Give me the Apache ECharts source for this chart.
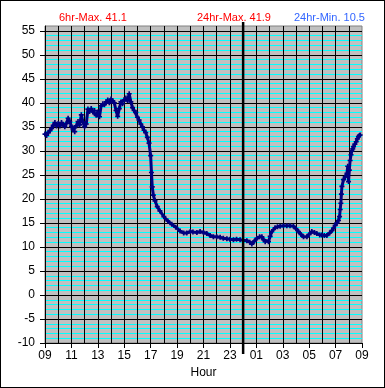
<!DOCTYPE html>
<html><head><meta charset="utf-8">
<script src="https://cdn.jsdelivr.net/npm/echarts@6/dist/echarts.min.js"></script>
<style>html,body{margin:0;padding:0;background:#fff}#c{width:383px;height:386px;border:1px solid #000}</style>
</head><body><div id="c"></div>
<script>
// hours elapsed since 09:00
const hours = [0,0.125,0.25,0.375,0.5,0.625,0.75,0.875,1,1.125,1.25,1.375,1.5,1.625,1.75,1.875,2,2.125,2.25,2.375,2.5,2.625,2.75,2.875,3,3.125,3.25,3.375,3.5,3.625,3.75,3.875,4,4.125,4.25,4.375,4.5,4.625,4.75,4.875,5,5.125,5.25,5.375,5.5,5.625,5.75,5.875,6,6.125,6.25,6.375,6.5,6.625,6.75,6.875,7,7.125,7.25,7.375,7.5,7.625,7.75,7.875,8,8.06,8.12,8.2,8.33,8.5,8.7,9,9.3,9.6,9.9,10.23,10.5,10.73,11,11.2,11.5,11.74,12,12.25,12.5,12.75,13,13.26,13.5,13.77,14,14.27,14.5,14.77,15,15.28,15.5,15.66,15.85,16.04,16.25,16.42,16.55,16.67,16.92,17.05,17.17,17.42,17.6,17.8,18.05,18.31,18.55,18.81,19,19.19,19.38,19.57,19.83,20,20.2,20.4,20.58,20.8,20.96,21.15,21.34,21.55,21.72,21.85,21.97,22.1,22.22,22.3,22.35,22.4,22.44,22.48,22.6,22.73,22.86,22.92,22.98,23.04,23.1,23.17,23.23,23.3,23.36,23.46,23.56,23.65,23.73,23.8,23.86];
const temps = [33.5,33.2,33.8,34.2,34.7,35.3,35.9,35.2,35.7,35.2,35.9,35.4,35.0,35.7,36.8,36.1,35.1,34.4,34.0,35.2,36.1,35.4,37.5,36.0,35.0,35.6,38.7,38.2,38.8,38.1,38.4,37.4,38.1,37.1,39.4,39.8,39.6,40.2,40.6,40.0,40.8,40.4,40.0,38.4,37.2,38.8,40.2,39.8,40.6,41.0,40.5,41.9,40.2,39.0,38.4,38.0,37.0,36.4,35.6,35.0,34.3,33.8,32.8,31.6,29.0,25.5,22.5,20.8,19.6,18.4,17.5,16.3,15.4,14.7,14.1,13.3,12.9,12.9,13.2,13.1,13.0,13.2,13.0,12.8,12.4,12.1,12.1,12.0,11.8,11.7,11.6,11.5,11.6,11.5,11.4,11.3,11.0,10.6,11.2,11.8,12.1,12.1,11.5,11.1,11.1,12.2,13.2,14.0,14.2,14.3,14.4,14.4,14.4,14.3,13.8,13.2,12.6,12.1,12.1,12.6,13.2,13.0,12.8,12.5,12.5,12.4,12.4,12.9,13.4,13.9,14.5,15.0,15.5,16.3,17.8,19.1,21.0,22.6,24.0,24.6,25.3,26.8,23.6,26.0,28.0,29.2,30.0,30.4,30.9,31.4,31.9,32.5,33.0,33.2,33.3];
const xTickLabels = ['09','11','13','15','17','19','21','23','01','03','05','07','09'];
const yTickValues = [-10,-5,0,5,10,15,20,25,30,35,40,45,50,55];
const headerTexts = ['6hr-Max. 41.1','24hr-Max. 41.9','24hr-Min. 10.5'];
const midnightHour = 15;
const yMin = -10, yMax = 56;

const FONT = 'Liberation Sans, Arial, sans-serif';
const chart = echarts.init(document.getElementById('c'), null, {renderer:'canvas'});

const pairs = hours.map((h,i)=>[h,temps[i]]);

// split line colours
const majorColors = [];
for (let v = yMin; v <= 55; v += 5) majorColors.push('#000');
majorColors.push('rgba(0,0,0,0)');
const minorColors = [];
for (let v = yMin; v <= yMax; v += 1) minorColors.push((v % 5 === 0 || v === yMax) ? 'rgba(0,0,0,0)' : '#00ffff');
const xColors = xTickLabels.map((_,i)=> i === xTickLabels.length-1 ? 'rgba(0,0,0,0)' : '#000');

const plus = 'path://M2,0H4V2H6V4H4V6H2V4H0V2H2Z';

chart.setOption({
  animation:false,
  backgroundColor:'#fff',
  title:[
    {text:headerTexts[0], left:53, top:6, textStyle:{color:'#ff0000', fontSize:11, fontWeight:'normal', fontFamily:FONT}},
    {text:headerTexts[1], left:191, top:6, textStyle:{color:'#ff0000', fontSize:11, fontWeight:'normal', fontFamily:FONT}},
    {text:headerTexts[2], left:288, top:6, textStyle:{color:'#3366ff', fontSize:11, fontWeight:'normal', fontFamily:FONT}}
  ],
  grid:{left:44, right:22, top:25, bottom:44, show:true, backgroundColor:'#c0c0c0', borderColor:'#808080', borderWidth:1},
  xAxis:{
    type:'value', min:0, max:24, interval:2, z:3,
    name:'Hour', nameLocation:'middle', nameGap:24,
    nameTextStyle:{color:'#000', fontSize:12, fontFamily:FONT},
    axisLine:{show:true, onZero:false, lineStyle:{color:'#000', width:1}},
    axisTick:{show:true, length:5, lineStyle:{color:'#000'}},
    axisLabel:{color:'#000', fontSize:12, fontFamily:FONT, margin:7, formatter:(v)=>xTickLabels[Math.round(v/2)]},
    splitLine:{show:true, lineStyle:{color:xColors, width:1}},
    minorTick:{show:false, splitNumber:2},
    minorSplitLine:{show:true, lineStyle:{color:'#000', width:1}}
  },
  yAxis:[
    {
      type:'value', min:yMin, max:yMax, interval:5, z:3,
      axisLine:{show:true, onZero:false, lineStyle:{color:'#000', width:1}},
      axisTick:{show:true, length:5, inside:false, lineStyle:{color:'#000'}, customValues:yTickValues},
      axisLabel:{color:'#000', fontSize:12, fontFamily:FONT, margin:10, customValues:yTickValues},
      splitLine:{show:true, lineStyle:{color:majorColors, width:1}}
    },
    {
      type:'value', min:yMin, max:yMax, interval:1, z:1, position:'left',
      axisLine:{show:false, onZero:false}, axisTick:{show:false}, axisLabel:{show:false},
      splitLine:{show:true, lineStyle:{color:minorColors, width:1}}
    }
  ],
  series:[{
    type:'line', data:pairs, yAxisIndex:0, z:5,
    showAllSymbol:true, symbol:plus, symbolSize:5,
    lineStyle:{color:'#000080', width:3},
    itemStyle:{color:'#000080'}
  }]
});

function addMidnight(){
  const x = chart.convertToPixel({xAxisIndex:0}, midnightHour);
  const yTop = chart.convertToPixel({yAxisIndex:0}, yMax);
  const yBot = chart.convertToPixel({yAxisIndex:0}, yMin);
  chart.setOption({graphic:[{type:'line', z:10, shape:{x1:x, y1:yTop-4, x2:x, y2:yBot+11}, style:{stroke:'#000', lineWidth:2.5}}]});
}
addMidnight();
</script></body></html>
